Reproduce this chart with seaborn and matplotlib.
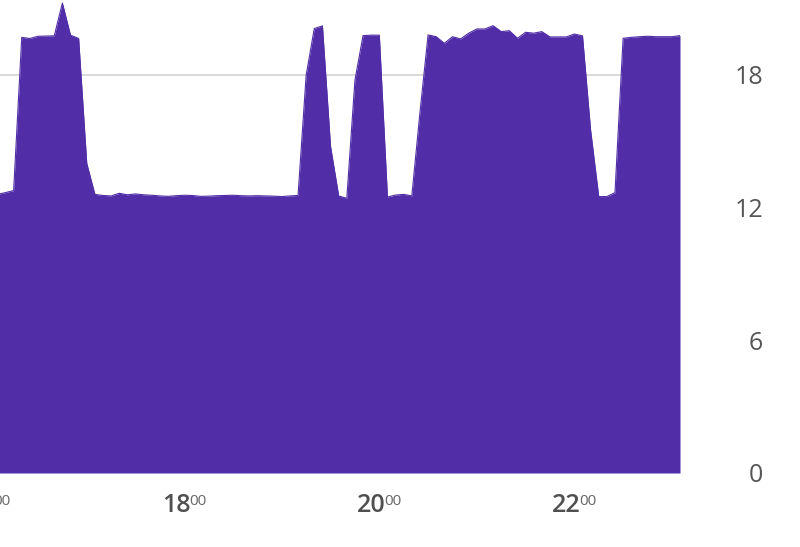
import numpy as np
import pandas as pd
import matplotlib
matplotlib.use('Agg')
import matplotlib.pyplot as plt
import matplotlib.dates as mdates
import seaborn as sns

# 5 minute samples, 16:05 .. 23:05
times = pd.date_range('2024-05-14 16:05', periods=85, freq='5min')
load = [12.6, 12.68, 12.77, 19.7, 19.65, 19.75, 19.76, 19.77, 21.25, 19.8,
        19.65, 14.0, 12.6, 12.55, 12.53, 12.65, 12.58, 12.62, 12.58, 12.56,
        12.53, 12.51, 12.54, 12.56, 12.55, 12.51, 12.52, 12.54, 12.55, 12.56,
        12.54, 12.53, 12.54, 12.53, 12.52, 12.5, 12.53, 12.55, 18.0, 20.1,
        20.22, 14.76, 12.53, 12.42, 17.77, 19.78, 19.8, 19.8, 12.48, 12.57,
        12.6, 12.53, 16.3, 19.81, 19.73, 19.43, 19.73, 19.63, 19.89, 20.08,
        20.08, 20.23, 19.96, 20.0, 19.66, 19.93, 19.89, 19.96, 19.72, 19.72,
        19.72, 19.85, 19.77, 15.5, 12.5, 12.5, 12.68, 19.66, 19.7, 19.73,
        19.75, 19.73, 19.73, 19.73, 19.78]
tick_hours = ['16', '18', '20', '22']
tick_minutes = ['00', '00', '00', '00']
y_ticks = [0, 6, 12, 18]

sns.set_theme(style='white')
plt.rcParams['font.family'] = ['Open Sans', 'DejaVu Sans']

fig = plt.figure(figsize=(8, 5.47), dpi=100)
ax = fig.add_axes([0, 74 / 547, 680 / 800, 473 / 547])

df = pd.DataFrame({'time': times, 'load': load})
purple = '#512da8'
ax.fill_between(df['time'], df['load'], 0, color=purple, lw=0, zorder=2)
sns.lineplot(data=df, x='time', y='load', ax=ax, color=purple, lw=0.8, zorder=3)

ax.set_xlim(pd.Timestamp('2024-05-14 16:06:37'), times[-1])
ax.set_ylim(0, 21.39)
ax.set_yticks(y_ticks)
ax.yaxis.tick_right()
ax.tick_params(axis='y', length=0, pad=59.8, labelsize=18, labelcolor='#555555')
for lbl in ax.get_yticklabels():
    lbl.set_ha('right')
ax.yaxis.grid(True, color='#d0d0d0', lw=1.1)
ax.xaxis.grid(False)
ax.set_axisbelow(True)
ax.set_xticks([])
ax.set_xlabel('')
ax.set_ylabel('')
sns.despine(ax=ax, left=True, bottom=True)

# hour labels with superscript minutes
for h, m in zip(tick_hours, tick_minutes):
    t = mdates.date2num(pd.Timestamp(f'2024-05-14 {h}:{m}'))
    ax.annotate(h, xy=(t, 0), xycoords=('data', 'axes fraction'),
                xytext=(6.5, -38.7), textcoords='offset pixels',
                ha='right', va='baseline', fontsize=18, fontweight='semibold',
                color='#505050', annotation_clip=False)
    ax.annotate(m, xy=(t, 0), xycoords=('data', 'axes fraction'),
                xytext=(4.5, -32.2), textcoords='offset pixels',
                ha='left', va='baseline', fontsize=11,
                color='#666666', annotation_clip=False)

fig.savefig('out.png', dpi=100)
